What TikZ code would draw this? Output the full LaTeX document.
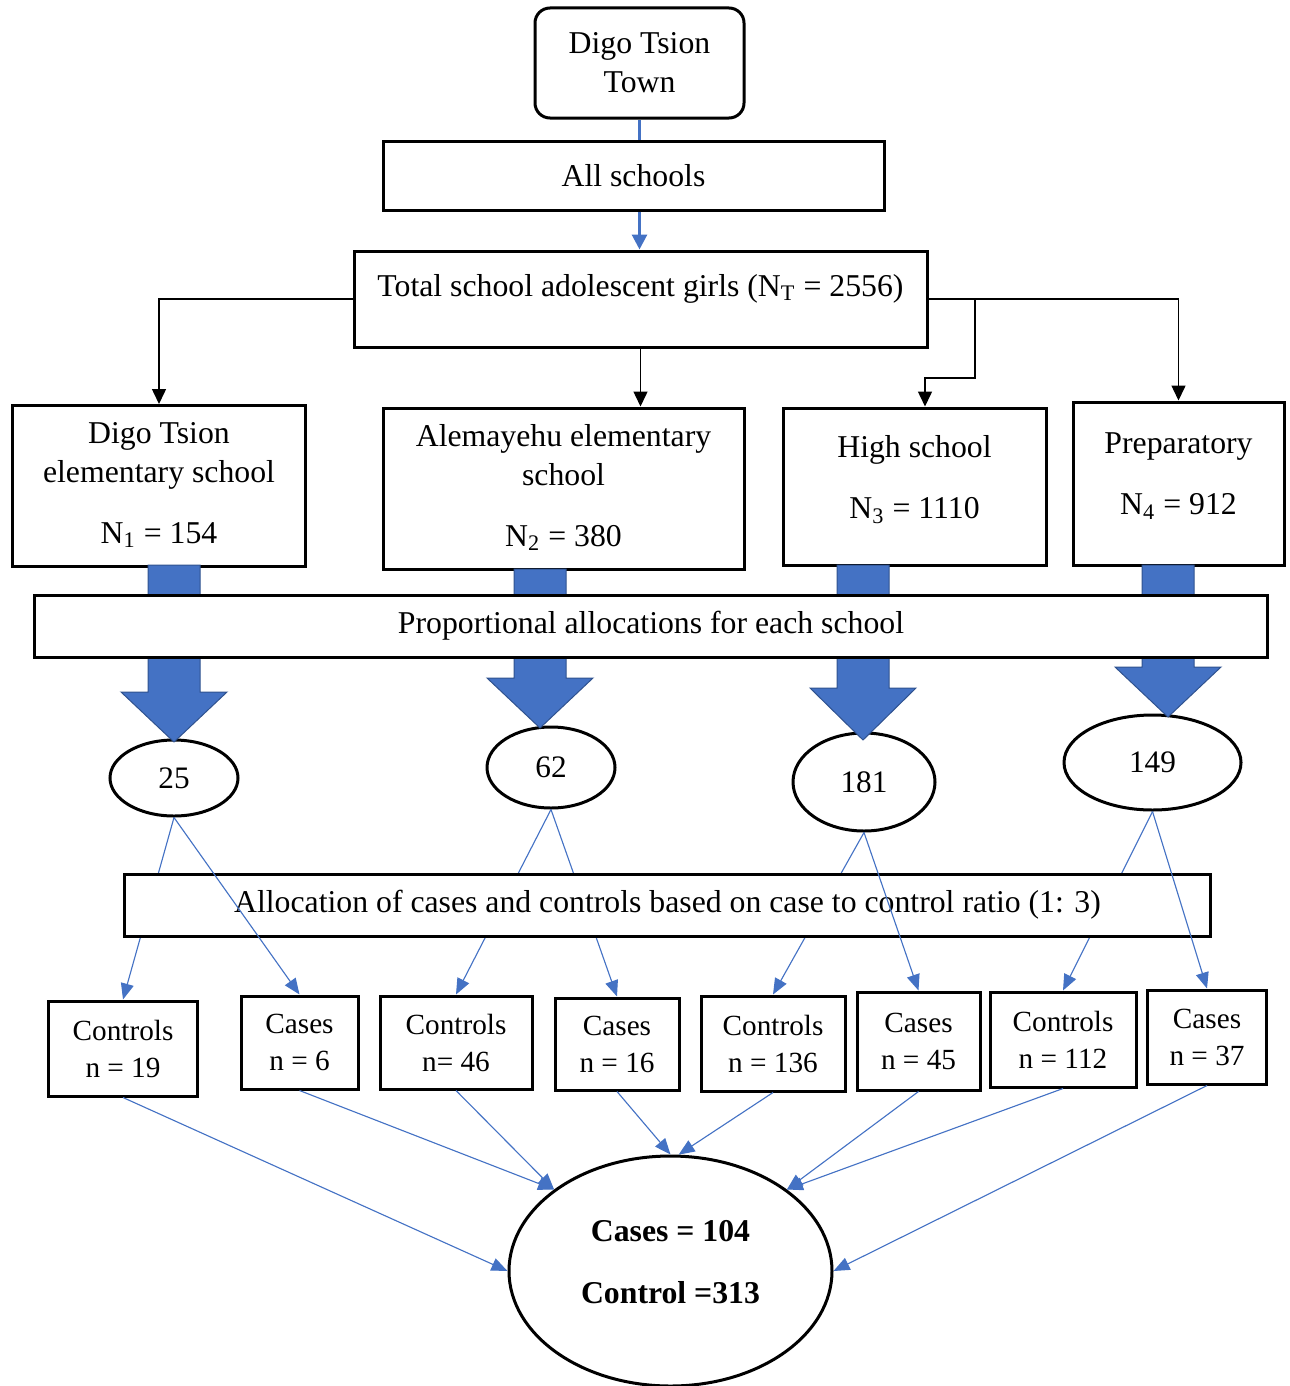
\documentclass[tikz,border=0pt]{standalone}
\usepackage{fontspec}
\setmainfont{Liberation Serif}
\usetikzlibrary{shapes.geometric,arrows.meta}
\definecolor{wordblue}{HTML}{4472C4}
\definecolor{wordedge}{HTML}{2F528F}

\begin{document}
\begin{tikzpicture}[x=0.4pt,y=-0.4pt,
  box/.style={draw,line width=1.2pt,fill=white,inner sep=0pt,align=center,
    font=\fontsize{12.7}{15.6}\selectfont},
  smallbox/.style={box,font=\fontsize{11.7}{14.8}\selectfont},
  oval/.style={draw,ellipse,line width=1.2pt,fill=white,inner sep=0pt,
    font=\fontsize{12.5}{15}\selectfont},
  tree/.style={-{Triangle[length=6pt,width=5.6pt]},line width=0.6pt},
  blueline/.style={-{Triangle[length=6.4pt,width=5.2pt]},wordblue,line width=0.45pt},
  fatarrow/.style={fill=wordblue,draw=wordedge,line width=0.4pt}]
  \useasboundingbox (0,0) rectangle (1289,1386);

  % top of the tree
  \node[box,rounded corners=6pt,minimum width=83.6pt,minimum height=44pt] (town) at (639.5,63) {Digo Tsion\\Town};
  \node[box,minimum width=200.4pt,minimum height=27.6pt] (all) at (633.5,175.5) {All schools};
  \node[box,minimum width=229.2pt,minimum height=38.4pt,text height=8.5pt,text depth=10.7pt] (total) at (640.5,299)
    {Total school adolescent girls (N\textsubscript{T} = 2556)};
  \draw[wordblue,line width=1.2pt] (town.south) -- (town.south |- all.north);
  \draw[wordblue,line width=1.2pt,-{Triangle[length=6pt,width=6pt]}] (town.south |- all.south) -- (town.south |- total.north);

  % schools
  \node[box,minimum width=116.8pt,minimum height=64.4pt] (digo) at (159,486)
    {Digo Tsion\\elementary school\\[8.8pt]N\textsubscript{1} = 154\\[-13pt]\mbox{}};
  \node[box,minimum width=144.4pt,minimum height=64.4pt] (alem) at (563.5,488.5)
    {Alemayehu elementary\\school\\[8.8pt]N\textsubscript{2} = 380\\[-13pt]\mbox{}};
  \node[box,minimum width=105.2pt,minimum height=62.8pt] (high) at (914.5,486.5)
    {High school\\[8.8pt]N\textsubscript{3} = 1110\\[-8pt]\mbox{}};
  \node[box,minimum width=84.4pt,minimum height=65.2pt] (prep) at (1178.5,483.5)
    {Preparatory\\[8.8pt]N\textsubscript{4} = 912\\[-8pt]\mbox{}};

  \coordinate (split) at (975,299);
  \coordinate (bend) at (975,378);
  \coordinate (hsin) at ([xshift=4.2pt]high.north);
  \draw[tree] (total.west) -| (digo.north);
  \draw[tree] (total.south) -- (total.south |- alem.north);
  \draw[tree] (total.east) -- (split) -- (bend) -| (hsin);
  \draw[tree] (split) -| (prep.north);

  % sample size per school
  \node[oval,minimum width=51.2pt,minimum height=30.4pt] (n25) at (174,778) {25};
  \node[oval,minimum width=51.2pt,minimum height=32.4pt] (n62) at (551,767.5) {62};
  \node[oval,minimum width=56.8pt,minimum height=39.2pt] (n181) at (864,782) {181};
  \node[oval,minimum width=70.8pt,minimum height=38pt] (n149) at (1152.5,762.5) {149};

  \foreach \cx/\sy/\hy/\ty in {174/565/692/742, 540/569/678/728, 863/565/688/740, 1168/565/667/717}
    \filldraw[fatarrow] (\cx-26,\sy) -- (\cx+26,\sy) -- (\cx+26,\hy) -- (\cx+53,\hy)
      -- (\cx,\ty) -- (\cx-53,\hy) -- (\cx-26,\hy) -- cycle;
  \node[box,minimum width=492.8pt,minimum height=24.8pt] (prop) at (651,626) {Proportional allocations for each school};

  % cases and controls
  \node[smallbox,minimum width=59.2pt,minimum height=38pt] (c19) at (123,1048.5) {Controls\\n = 19};
  \node[smallbox,minimum width=46.8pt,minimum height=37.2pt] (s6) at (299.5,1042.5) {Cases\\n = 6};
  \node[smallbox,minimum width=60.8pt,minimum height=37.2pt] (c46) at (456,1042.5) {Controls\\n= 46};
  \node[smallbox,minimum width=49.6pt,minimum height=36.8pt] (s16) at (617,1044) {Cases\\n = 16};
  \node[smallbox,minimum width=57.6pt,minimum height=38pt] (c136) at (773,1043.5) {Controls\\n = 136};
  \node[smallbox,minimum width=49.2pt,minimum height=39.2pt] (s45) at (918.5,1041) {Cases\\n = 45};
  \node[smallbox,minimum width=58.4pt,minimum height=38pt] (c112) at (1063,1039.5) {Controls\\n = 112};
  \node[smallbox,minimum width=47.6pt,minimum height=37.6pt] (s37) at (1207,1037) {Cases\\n = 37};

  \draw[blueline] (n25.south) -- (c19.north);
  \draw[blueline] (n62.south) -- (c46.north);
  \draw[blueline] (n62.south) -- (s16.north);
  \draw[blueline] (n181.south) -- (c136.north);
  \draw[blueline] (n149.south) -- (c112.north);
  \node[box,minimum width=434pt,minimum height=24.8pt] (alloc) at (667.5,905)
    {Allocation of cases and controls based on case to control ratio (1: 3)};
  \draw[blueline] (n25.south) -- (s6.north);
  \draw[blueline] (n181.south) -- (s45.north);
  \draw[blueline] (n149.south) -- (s37.north);

  % totals
  \node[oval,minimum width=129.2pt,minimum height=92pt,align=center,
    font=\bfseries\fontsize{12.7}{15.6}\selectfont] (fin) at (670.5,1271)
    {Cases = 104\\[9.2pt]Control =313\\[-8pt]\mbox{}};
  \draw[blueline] (c19.south) -- (fin.west);
  \draw[blueline] (s6.south) -- (fin.145);
  \draw[blueline] (c46.south) -- (fin.145);
  \draw[blueline] (s16.south) -- (fin.north);
  \draw[blueline] (c136.south) -- (fin.86);
  \draw[blueline] (s45.south) -- (fin.35);
  \draw[blueline] (c112.south) -- (fin.35);
  \draw[blueline] (s37.south) -- (fin.east);
\end{tikzpicture}
\end{document}
